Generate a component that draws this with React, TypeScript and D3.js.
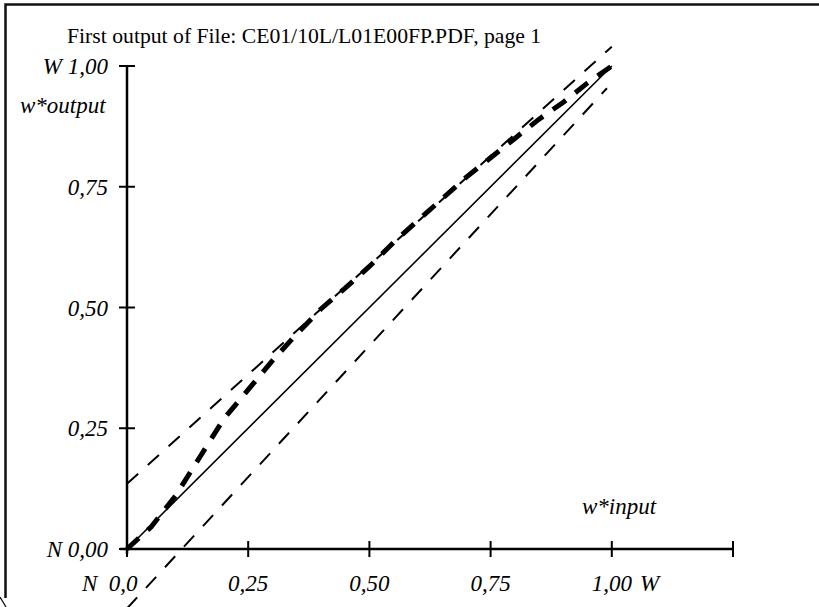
import React, { useEffect, useRef } from 'react'
import * as d3 from 'd3'

// chart data (w*input -> w*output)
const seriesX = [0, 0.05, 0.1, 0.15, 0.2, 0.25, 0.3, 0.35, 0.4, 0.45, 0.5, 0.55, 0.6, 0.65, 0.7, 0.75, 0.8, 0.85, 0.9, 0.95, 1.0]
const seriesY = [0, 0.046, 0.11, 0.19, 0.27, 0.33, 0.39, 0.445, 0.497, 0.54, 0.585, 0.635, 0.68, 0.725, 0.77, 0.81, 0.85, 0.89, 0.925, 0.965, 1.0]
const identityLine = [[0, 0], [1, 1]]
const upperBound = [[0, 0.135], [1.0, 1.04]]
const lowerBound = [[0.0, -0.123], [0.99, 0.954]]

const xTicks = [0, 0.25, 0.5, 0.75, 1.0, 1.25]
const xTickLabels = ['0,0', '0,25', '0,50', '0,75', '1,00', '']
const yTicks = [0, 0.25, 0.5, 0.75, 1.0]
const yTickLabels = ['N 0,00', '0,25', '0,50', '0,75', 'W 1,00']

const title = 'First output of File: CE01/10L/L01E00FP.PDF, page 1'

const W = 819
const H = 607
const FONT = "'Liberation Serif', 'Times New Roman', serif"

export default function App() {
    const ref = useRef<SVGSVGElement>(null)

    useEffect(() => {
        const svg = d3.select(ref.current)
        svg.selectAll('*').remove()

        const x = d3.scaleLinear().domain([0, 1.25]).range([127, 733])
        const y = d3.scaleLinear().domain([0, 1]).range([549, 66])

        // page frame (only top and left edges visible)
        svg.append('path')
            .attr('d', `M5.5,598 L5.5,4.5 L819,4.5`)
            .attr('fill', 'none').attr('stroke', '#111').attr('stroke-width', 2.5)
        svg.append('line')
            .attr('x1', 0).attr('y1', 597).attr('x2', 6).attr('y2', 607)
            .attr('stroke', '#111').attr('stroke-width', 1.3)

        svg.append('text')
            .attr('x', 67).attr('y', 43)
            .attr('font-family', FONT).attr('font-size', 21.7)
            .text(title)

        // axes
        svg.append('line')
            .attr('x1', x(0)).attr('x2', x(0)).attr('y1', y(0) + 5).attr('y2', y(1))
            .attr('stroke', '#000').attr('stroke-width', 2.5)
        svg.append('line')
            .attr('x1', x(0) - 7).attr('x2', x(1.25)).attr('y1', y(0)).attr('y2', y(0))
            .attr('stroke', '#000').attr('stroke-width', 2.5)

        svg.selectAll('.ytick').data(yTicks).join('line')
            .attr('class', 'ytick')
            .attr('x1', x(0) - 8).attr('x2', x(0) + 8)
            .attr('y1', d => y(d)).attr('y2', d => y(d))
            .attr('stroke', '#000').attr('stroke-width', 2)

        svg.selectAll('.xtick').data(xTicks).join('line')
            .attr('class', 'xtick')
            .attr('x1', d => x(d)).attr('x2', d => x(d))
            .attr('y1', y(0) - 8).attr('y2', y(0) + 8)
            .attr('stroke', '#000').attr('stroke-width', 2)

        const italic = (sel: any) => sel
            .attr('font-family', FONT).attr('font-size', 23).attr('font-style', 'italic')

        svg.selectAll('.ylabel').data(yTicks).join('text')
            .attr('class', 'ylabel')
            .attr('x', 108).attr('y', d => y(d) + 8)
            .attr('text-anchor', 'end')
            .call(italic)
            .text((d, i) => yTickLabels[i])

        svg.selectAll('.xlabel').data(xTicks).join('text')
            .attr('class', 'xlabel')
            .attr('x', (d, i) => i == 0 ? x(d) - 4 : x(d))
            .attr('y', 591)
            .attr('text-anchor', 'middle')
            .call(italic)
            .text((d, i) => xTickLabels[i])

        // axis end letters and axis titles
        const extras = [
            { t: 'N', x: 82, y: 591 },
            { t: 'W', x: 640, y: 591 },
            { t: 'w*output', x: 20, y: 113 },
            { t: 'w*input', x: 582, y: 514 },
        ]
        svg.selectAll('.extra').data(extras).join('text')
            .attr('class', 'extra')
            .attr('x', d => d.x).attr('y', d => d.y)
            .call(italic)
            .text(d => d.t)

        const line = d3.line<number[]>().x(d => x(d[0])).y(d => y(d[1]))

        svg.append('path')
            .attr('d', line(identityLine))
            .attr('fill', 'none').attr('stroke', '#000').attr('stroke-width', 1.6)

        svg.selectAll('.bound').data([upperBound, lowerBound]).join('path')
            .attr('class', 'bound')
            .attr('d', d => line(d))
            .attr('fill', 'none').attr('stroke', '#000').attr('stroke-width', 2)
            .attr('stroke-dasharray', '15,13')

        const series = seriesX.map((v, i) => [v, seriesY[i]])
        svg.append('path')
            .attr('d', line(series))
            .attr('fill', 'none').attr('stroke', '#000').attr('stroke-width', 5)
            .attr('stroke-dasharray', '16,12')
    }, [])

    return (
        <svg ref={ref} width={W} height={H}
            style={{ position: 'absolute', left: 0, top: 0, background: '#fff' }} />
    )
}
